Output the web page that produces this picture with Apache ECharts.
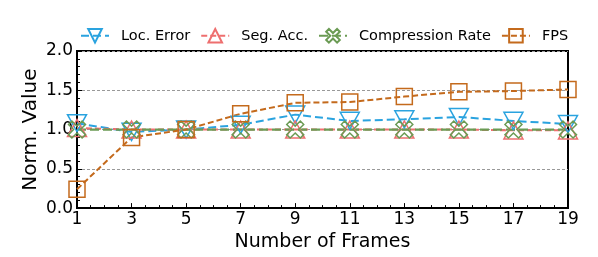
<!DOCTYPE html>
<html><head><meta charset="utf-8">
<script src="https://cdn.jsdelivr.net/npm/echarts@6/dist/echarts.min.js"></script>
<style>html,body{margin:0;padding:0;background:#fff}#c{width:598px;height:257px}</style>
</head><body><div id="c"></div>
<script>
const frames = [1, 3, 5, 7, 9, 11, 13, 15, 17, 19];
const locError = [1.08, 0.97, 1.0, 1.06, 1.19, 1.11, 1.13, 1.16, 1.11, 1.07];
const segAcc = [1.02, 1.0, 1.0, 1.0, 1.0, 1.0, 1.0, 1.0, 0.99, 0.99];
const compRate = [1.0, 1.0, 1.0, 1.0, 1.0, 1.0, 1.0, 1.0, 1.0, 1.0];
const fps = [0.24, 0.9, 1.0, 1.2, 1.34, 1.35, 1.42, 1.48, 1.49, 1.51];
const seriesNames = ['Loc. Error', 'Seg. Acc.', 'Compression Rate', 'FPS'];

const FONT = 'DejaVu Sans';
const triDown = 'path://M0,0 L10,0 L5,9 Z';
const triUp = 'path://M5,0 L10,9 L0,9 Z';
const xMark = 'path://M0,2 L2,0 L5,3 L8,0 L10,2 L7,5 L10,8 L8,10 L5,7 L2,10 L0,8 L3,5 Z';
const square = 'path://M0,0 L10,0 L10,10 L0,10 Z';

function mk(name, vals, color, symbol, size, dash, width) {
  return {
    name: name, type: 'line',
    data: frames.map((f, i) => [f, vals[i]]),
    symbol: symbol, symbolSize: size, symbolKeepAspect: true,
    showAllSymbol: true,
    lineStyle: {color: color, width: width, type: dash},
    itemStyle: {color: 'rgba(255,255,255,0)', borderColor: color, borderWidth: 1.5},
    emphasis: {disabled: true},
    animation: false, clip: false
  };
}

const chart = echarts.init(document.getElementById('c'), null, {renderer: 'canvas'});
chart.setOption({
  animation: false,
  legend: {
    top: 28, left: 80, padding: 0,
    itemWidth: 28, itemHeight: 17, itemGap: 10,
    textStyle: {fontFamily: FONT, fontSize: 14.5, color: '#000', padding: [0, 0, 0, 7]},
    data: seriesNames
  },
  grid: {left: 77, right: 30, top: 51, bottom: 45, show: true, borderColor: '#000', borderWidth: 2, backgroundColor: 'transparent'},
  xAxis: {
    type: 'value', min: 1, max: 19, interval: 2,
    name: 'Number of Frames', nameLocation: 'middle', nameGap: 24,
    nameTextStyle: {fontFamily: FONT, fontSize: 19, color: '#000'},
    axisLine: {show: true, lineStyle: {color: '#000', width: 2}},
    axisTick: {show: true, inside: true, length: 5, lineStyle: {color: '#000'}},
    minorTick: {show: true, splitNumber: 4, length: 3, lineStyle: {color: '#000'}},
    axisLabel: {fontFamily: FONT, fontSize: 17, color: '#000', margin: 3},
    splitLine: {show: false}
  },
  yAxis: {
    type: 'value', min: 0, max: 2, interval: 0.5,
    name: 'Norm. Value', nameLocation: 'middle', nameGap: 36, nameMoveOverlap: false,
    nameTextStyle: {fontFamily: FONT, fontSize: 20, color: '#000'},
    axisLine: {show: true, lineStyle: {color: '#000', width: 2}},
    axisTick: {show: true, inside: true, length: 5, lineStyle: {color: '#000'}},
    minorTick: {show: true, splitNumber: 5, length: 3, lineStyle: {color: '#000'}},
    axisLabel: {fontFamily: FONT, fontSize: 17, color: '#000', margin: 4, formatter: v => v.toFixed(1)},
    splitLine: {show: true, lineStyle: {color: '#999', type: [3, 2], width: 1}}
  },
  series: [
    mk(seriesNames[0], locError, '#2aa3df', triDown, 19, [8, 4], 2),
    mk(seriesNames[1], segAcc, '#ee6f6f', triUp, 19, [6, 3], 2),
    mk(seriesNames[2], compRate, '#6b9b54', xMark, 17, [9, 4], 2.2),
    mk(seriesNames[3], fps, '#c46a1c', square, 16, [6, 3], 2)
  ]
});
</script></body></html>
